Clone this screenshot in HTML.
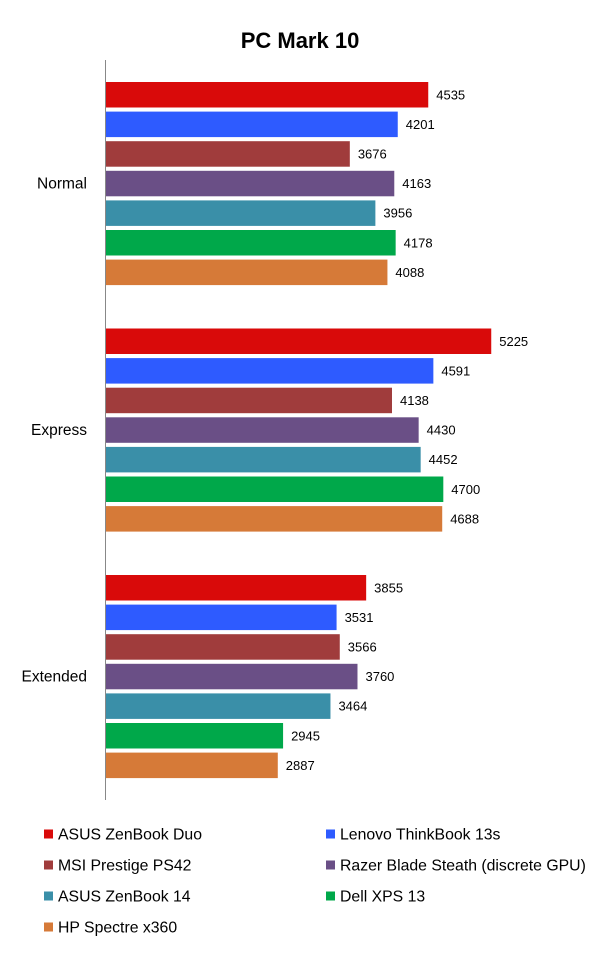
<!DOCTYPE html>
<html><head><meta charset="utf-8"><style>
body{margin:0;background:#fff;font-family:"Liberation Sans",Arial,sans-serif}
svg{display:block}
</style></head><body>
<svg id="c" width="601" height="953">
<text x="300" y="48" text-anchor="middle" font-size="22" font-weight="bold">PC Mark 10</text>
<line x1="105.5" y1="60" x2="105.5" y2="800" stroke="#888" stroke-width="1"/>
</svg>
<script>
const categories = ["Normal","Express","Extended"];
const seriesNames = ["ASUS ZenBook Duo","Lenovo ThinkBook 13s","MSI Prestige PS42","Razer Blade Steath (discrete GPU)","ASUS ZenBook 14","Dell XPS 13","HP Spectre x360"];
const asusDuo = [4535,5225,3855];
const lenovo = [4201,4591,3531];
const msi = [3676,4138,3566];
const razer = [4163,4430,3760];
const asus14 = [3956,4452,3464];
const dell = [4178,4700,2945];
const hp = [4088,4688,2887];
const series = [asusDuo,lenovo,msi,razer,asus14,dell,hp];
const colors = ["#d90a0a","#2e5bff","#a03c3c","#6a4f86","#3a8fa8","#00a84a","#d67a38"];
const svg = document.getElementById('c');
const NS = "http://www.w3.org/2000/svg";
const xMin = 1000, x0 = 105.5, k = 0.0913;
function xs(v){ return x0 + (v - xMin) * k; }
function yBar(g, s){ return 82 + g * 246.5 + s * 29.6; }
const barH = 25.5;
function mk(tag, attrs){ const e = document.createElementNS(NS, tag); for (const a in attrs) e.setAttribute(a, attrs[a]); svg.appendChild(e); return e; }
categories.forEach((cat, g) => {
  const t = mk('text', {x: 87, y: yBar(g,3) + barH/2 + 5, 'text-anchor': 'end', 'font-size': 15.5});
  t.textContent = cat;
  
  
  series.forEach((arr, s) => {
    const v = arr[g];
    const r = mk('rect', {x: x0 + 0.5, y: yBar(g,s), width: xs(v) - x0 - 0.5, height: barH, fill: colors[s]});
    
    
    const l = mk('text', {x: xs(v) + 8, y: yBar(g,s) + barH/2 + 4.5, 'font-size': 13});
    l.textContent = v;
    
    
  });
});
seriesNames.forEach((n, i) => {
  const col = i % 2, row = Math.floor(i / 2);
  const x = col ? 326 : 44, y = 834 + row * 31;
  const sq = mk('rect', {x: x, y: y - 4.5, width: 9, height: 9, fill: colors[i]});
  
  
  const t = mk('text', {x: x + 14, y: y + 5.5, 'font-size': 15.8});
  t.textContent = n;
  
  
});
</script>
</body></html>
